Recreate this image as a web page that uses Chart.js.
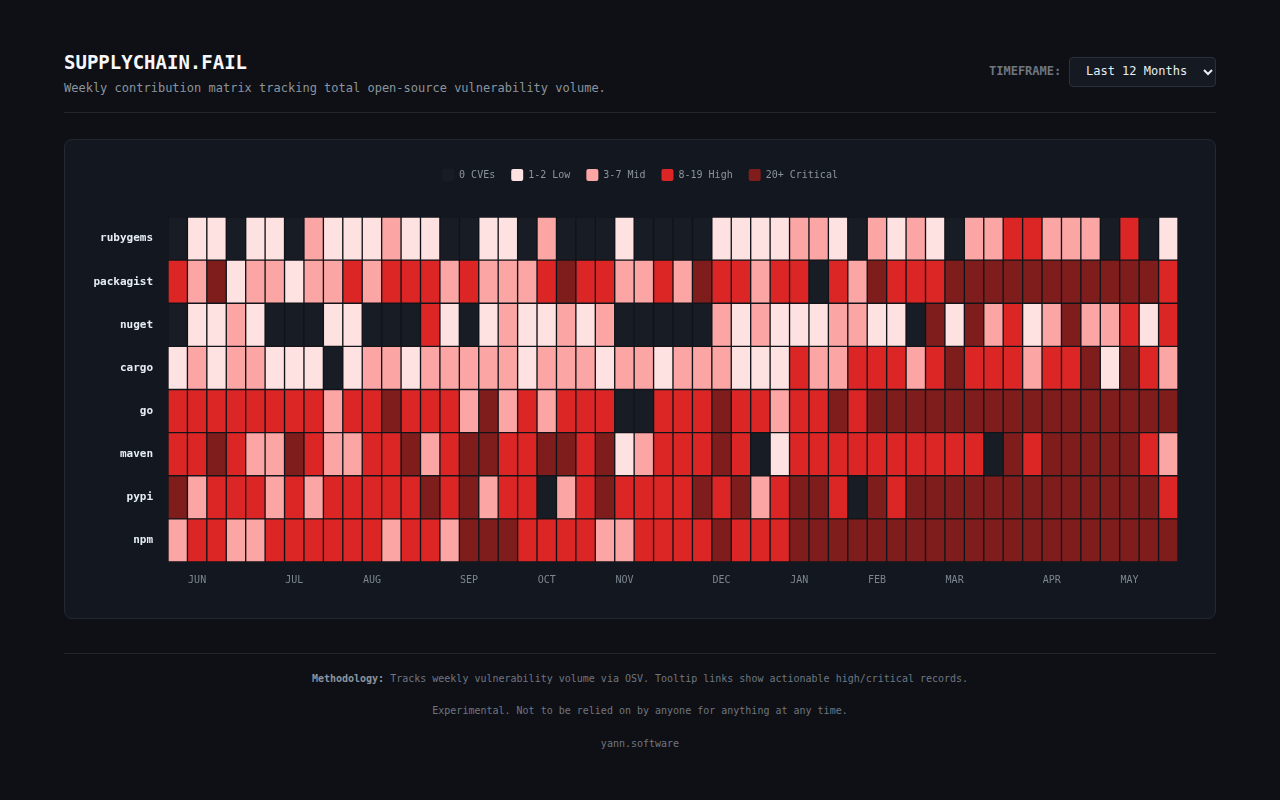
<!DOCTYPE html>
<html>
<head>
<meta charset="utf-8">
<script src="https://cdn.jsdelivr.net/npm/chart.js@4.4.1/dist/chart.umd.min.js"></script>
<style>
    body {
        margin: 0;
        width: 1280px;
        height: 800px;
        background: #0e1015;
        font-family: 'DejaVu Sans Mono', monospace;
        position: relative;
        overflow: hidden;
    }
    .title {
        position: absolute; left: 64px; top: 51px;
        font-size: 19px; font-weight: bold; color: #f5f7fa;
    }
    .subtitle {
        position: absolute; left: 64px; top: 81px;
        font-size: 12px; color: #8b949e;
    }
    .tf-label {
        position: absolute; left: 989px; top: 64px;
        font-size: 12px; font-weight: bold; color: #6e7681;
    }
    .tf-select {
        position: absolute; left: 1069px; top: 57px;
        width: 145px; height: 28px;
        background: #151a22; border: 1px solid #2a303a; border-radius: 4px;
        color: #e6edf3; font-size: 12px;
        box-sizing: content-box;
    }
    .tf-select span { position: absolute; left: 16px; top: 6px; }
    .tf-select svg { position: absolute; left: 133px; top: 11px; }
    .rule { position: absolute; left: 64px; width: 1152px; height: 1px; background: #22272f; }
    .card {
        position: absolute; left: 64px; top: 139px;
        width: 1150px; height: 478px;
        background: #131820; border: 1px solid #232932; border-radius: 8px;
    }
    .chart-box { position: absolute; left: 0; top: 0; width: 1150px; height: 478px; }
    .foot {
        position: absolute; left: 0; width: 1280px; text-align: center;
        font-size: 10px; color: #6e7681;
    }
    .foot b { color: #8b949e; }
</style>
</head>
<body>
<div class="title">SUPPLYCHAIN.FAIL</div>
<div class="subtitle">Weekly contribution matrix tracking total open-source vulnerability volume.</div>
<div class="tf-label">TIMEFRAME:</div>
<div class="tf-select"><span>Last 12 Months</span>
    <svg width="10" height="7" viewBox="0 0 10 7"><path d="M1 1 L5 5 L9 1" stroke="#e6edf3" stroke-width="2" fill="none"/></svg>
</div>
<div class="rule" style="top:112px"></div>

<div class="card">
    <div class="chart-box"><canvas id="heatmap"></canvas></div>
</div>

<div class="rule" style="top:653px"></div>
<div class="foot" style="top:673px"><b>Methodology:</b> Tracks weekly vulnerability volume via OSV. Tooltip links show actionable high/critical records.</div>
<div class="foot" style="top:705px">Experimental. Not to be relied on by anyone for anything at any time.</div>
<div class="foot" style="top:738px">yann.software</div>

<script>
// Ряди (зверху вниз)
const ecosystems = ['rubygems', 'packagist', 'nuget', 'cargo', 'go', 'maven', 'pypi', 'npm'];

// Рівень на тиждень: 0 = 0 CVEs, 1 = 1-2, 2 = 3-7, 3 = 8-19, 4 = 20+
const rubygems  = [0,1,1,0,1,1,0,2,1,1,1,2,1,1,0,0,1,1,0,2,0,0,0,1,0,0,0,0,1,1,1,1,2,2,1,0,2,1,2,1,0,2,2,3,3,2,2,2,0,3,0,1];
const packagist = [3,2,4,1,2,2,1,2,2,3,2,3,3,3,2,3,2,2,2,3,4,3,3,2,2,3,2,4,3,3,2,3,3,0,3,2,4,3,3,3,4,4,4,4,4,4,4,4,4,4,4,3];
const nuget     = [0,1,1,2,1,0,0,0,1,1,0,0,0,3,1,0,1,2,1,1,2,1,2,0,0,0,0,0,2,1,2,1,1,1,2,2,1,1,0,4,1,4,2,3,1,2,4,2,2,3,1,3];
const cargo     = [1,2,1,2,2,1,1,1,0,1,2,2,1,2,2,2,2,2,1,2,2,2,1,2,2,1,2,2,2,1,1,1,3,2,2,3,3,3,2,3,4,3,3,3,2,3,3,4,1,4,3,2];
const go        = [3,3,3,3,3,3,3,3,2,3,3,4,3,3,3,2,4,2,3,2,3,3,3,0,0,3,3,3,4,3,3,2,3,3,4,3,4,4,4,4,4,4,4,4,4,4,4,4,4,4,4,4];
const maven     = [3,3,4,3,2,2,4,3,2,2,3,3,4,2,3,4,4,3,3,4,4,3,4,1,2,3,3,3,4,3,0,1,3,3,3,3,3,3,3,3,3,3,0,4,3,4,4,4,4,4,3,2];
const pypi      = [4,2,3,3,3,2,3,2,3,3,3,3,3,4,3,4,2,3,3,0,2,3,4,3,3,3,3,4,3,4,2,3,4,4,3,0,4,3,4,4,4,4,4,4,4,4,4,4,4,4,4,3];
const npm       = [2,3,3,2,2,3,3,3,3,3,3,2,3,3,2,4,4,4,3,3,3,3,2,2,3,3,3,3,4,3,3,3,4,4,4,4,4,4,4,4,4,4,4,4,4,4,4,4,4,4,4,4];
const levels = [rubygems, packagist, nuget, cargo, go, maven, pypi, npm];

// Підписи місяців під колонками тижнів
const monthCols  = [1, 6, 10, 15, 19, 23, 28, 32, 36, 40, 45, 49];
const monthNames = ['JUN', 'JUL', 'AUG', 'SEP', 'OCT', 'NOV', 'DEC', 'JAN', 'FEB', 'MAR', 'APR', 'MAY'];

// Легенда
const legendLabels = ['0 CVEs', '1-2 Low', '3-7 Mid', '8-19 High', '20+ Critical'];
const levelColors  = ['#181d25', '#fee2e2', '#fca5a5', '#dc2626', '#7f1d1d'];

const weeks = rubygems.map((_, i) => i);
const weekLabels = weeks.map(i => {
    const k = monthCols.indexOf(i);
    return k >= 0 ? monthNames[k] : '';
});

Chart.defaults.font.family = "'DejaVu Sans Mono', monospace";

// Відступ під легендою
const legendGap = {
    id: 'legendGap',
    beforeInit(chart) {
        const origFit = chart.legend.fit;
        chart.legend.fit = function fit() {
            origFit.bind(chart.legend)();
            this.height += 26;
        };
    }
};

// Нижній ряд (npm) першим у стеку
const datasets = ecosystems.map((name, r) => ({
    label: name,
    data: weeks.map(() => 1),
    backgroundColor: levels[r].map(l => levelColors[l]),
    borderColor: '#121419',
    borderWidth: 1,
    borderSkipped: false,
    categoryPercentage: 1,
    barPercentage: 1,
})).reverse();

const rowsBottomUp = ecosystems.slice().reverse();

new Chart(document.getElementById('heatmap'), {
    type: 'bar',
    data: {
        labels: weekLabels,
        datasets: datasets
    },
    options: {
        responsive: true,
        maintainAspectRatio: false,
        animation: false,
        layout: {
            padding: { top: 13, right: 0, left: 0, bottom: 0 }
        },
        plugins: {
            legend: {
                display: true,
                position: 'top',
                onClick: null,
                labels: {
                    boxWidth: 12,
                    boxHeight: 12,
                    padding: 16,
                    color: '#8b949e',
                    useBorderRadius: true,
                    borderRadius: 2,
                    font: { size: 10 },
                    generateLabels: () => legendLabels.map((t, i) => ({
                        text: t,
                        fillStyle: levelColors[i],
                        strokeStyle: levelColors[i],
                        lineWidth: 0,
                        hidden: false,
                        fontColor: '#8b949e',
                        borderRadius: 2,
                    }))
                }
            },
            tooltip: { enabled: false }
        },
        scales: {
            x: {
                stacked: true,
                grid: { display: false, drawTicks: false },
                border: { display: false },
                ticks: {
                    autoSkip: false,
                    maxRotation: 0,
                    padding: 12,
                    color: '#7d8590',
                    font: { size: 10 }
                },
                afterFit(axis) { axis.height = 56; }
            },
            y: {
                stacked: true,
                min: 0,
                max: 8,
                grid: { display: false, drawTicks: false },
                border: { display: false },
                afterBuildTicks(axis) {
                    axis.ticks = rowsBottomUp.map((_, i) => ({ value: i + 0.5 }));
                },
                ticks: {
                    padding: 15,
                    color: '#e6edf3',
                    font: { size: 11, weight: 'bold' },
                    callback: (value) => rowsBottomUp[Math.floor(value)]
                },
                afterFit(axis) { axis.width = 103; }
            },
            // порожня права вісь, щоб легенда була по центру картки
            yRight: {
                position: 'right',
                min: 0,
                max: 8,
                grid: { display: false, drawTicks: false },
                border: { display: false },
                ticks: { display: false },
                afterFit(axis) { axis.width = 37; }
            }
        }
    },
    plugins: [legendGap]
});
</script>
</body>
</html>
